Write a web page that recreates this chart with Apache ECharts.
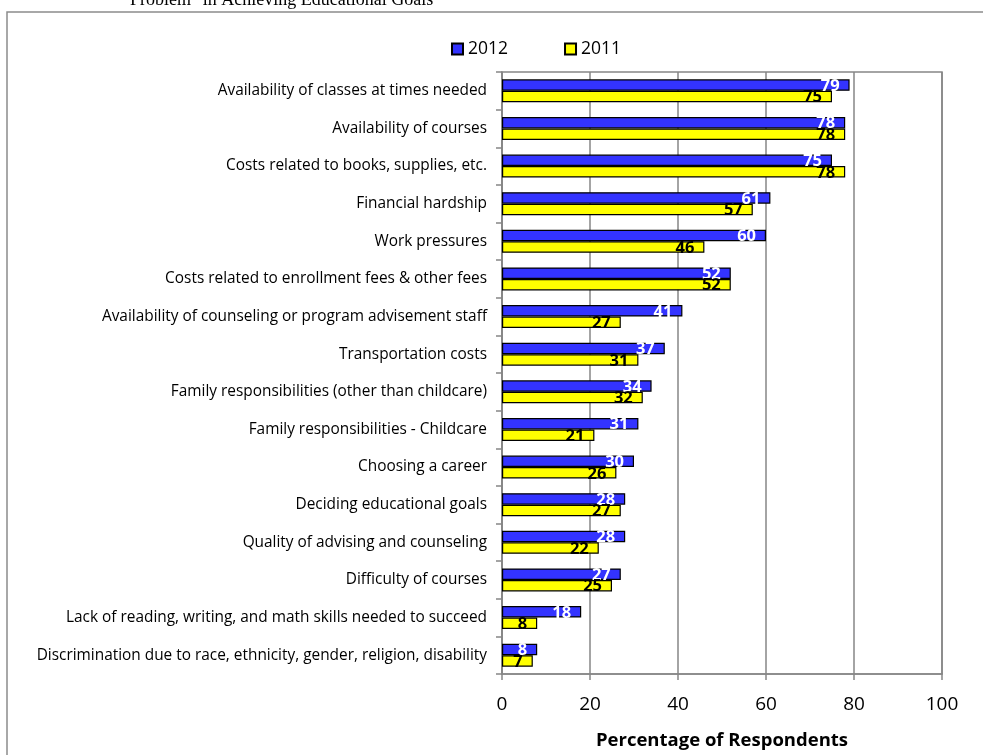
<!DOCTYPE html>
<html>
<head>
<meta charset="utf-8">
<script src="https://cdn.jsdelivr.net/npm/echarts@6/dist/echarts.min.js"></script>
<style>
html,body{margin:0;padding:0;background:#fff;}
#c{width:983px;height:755px;}
</style>
</head>
<body>
<div id="c"></div>
<script>
const categories = [
  "Availability of classes at times needed",
  "Availability of courses",
  "Costs related to books, supplies, etc.",
  "Financial hardship",
  "Work pressures",
  "Costs related to enrollment fees & other fees",
  "Availability of counseling or program advisement staff",
  "Transportation costs",
  "Family responsibilities (other than childcare)",
  "Family responsibilities - Childcare",
  "Choosing a career",
  "Deciding educational goals",
  "Quality of advising and counseling",
  "Difficulty of courses",
  "Lack of reading, writing, and math skills needed to succeed",
  "Discrimination due to race, ethnicity, gender, religion, disability"
];
const values2012 = [79, 78, 75, 61, 60, 52, 41, 37, 34, 31, 30, 28, 28, 27, 18, 8];
const values2011 = [75, 78, 78, 57, 46, 52, 27, 31, 32, 21, 26, 27, 22, 25, 8, 7];
const xTicks = [0, 20, 40, 60, 80, 100];

const FONT = '"Open Sans", Lato, sans-serif';
const GRAY = '#868686';
const chart = echarts.init(document.getElementById('c'), null, {renderer: 'canvas'});
chart.setOption({
  animation: false,
  backgroundColor: '#ffffff',
  graphic: [
    {type: 'rect', shape: {x: 7, y: 12, width: 1100, height: 900},
     style: {fill: 'none', stroke: '#8c8c8c', lineWidth: 1.5}, z: -1},
    {type: 'text', left: 130, top: -9,
     style: {text: 'Problem" in Achieving Educational Goals', font: '18px "Liberation Serif", "Times New Roman", serif', fill: '#000'}}
  ],
  legend: {
    left: 446, top: 35,
    itemWidth: 11, itemHeight: 11, itemGap: 56,
    icon: 'rect',
    textStyle: {fontFamily: FONT, fontSize: 17.5, color: '#000'},
    data: ['2012', '2011']
  },
  grid: {left: 502, right: 41, top: 72, bottom: 76, containLabel: false,
    show: true, borderColor: GRAY, borderWidth: 1.5, backgroundColor: 'transparent'},
  xAxis: {
    type: 'value', min: 0, max: 100, interval: 20,
    name: 'Percentage of Respondents', nameLocation: 'middle', nameGap: 57,
    nameTextStyle: {fontFamily: FONT, fontSize: 18.5, fontWeight: 'bold', color: '#000'},
    axisLine: {show: true, lineStyle: {color: GRAY, width: 1.5}},
    axisTick: {show: true, length: 6, inside: false, lineStyle: {color: GRAY, width: 1.5}},
    axisLabel: {fontFamily: FONT, fontSize: 19, color: '#000', margin: 21,
      formatter: v => xTicks.includes(v) ? String(v) : ''},
    splitLine: {show: true, lineStyle: {color: GRAY, width: 1.5}}
  },
  yAxis: {
    type: 'category', data: categories, inverse: true,
    axisLine: {show: true, lineStyle: {color: GRAY, width: 1.5}},
    axisTick: {show: true, length: 6, lineStyle: {color: GRAY, width: 1.5}},
    axisLabel: {fontFamily: FONT, fontSize: 15.4, color: '#000', margin: 15},
    splitLine: {show: false}
  },
  series: [
    {
      name: '2012', type: 'bar', data: values2012,
      barWidth: 11.5, barGap: '0%',
      itemStyle: {color: '#3333ff', borderColor: '#000', borderWidth: 1.2},
      label: {show: true, position: 'insideRight', distance: 10, offset: [0, 1],
        color: '#fff', fontFamily: FONT, fontSize: 16.5, fontWeight: 'bold'}
    },
    {
      name: '2011', type: 'bar', data: values2011,
      barWidth: 11.5, barGap: '0%',
      itemStyle: {color: '#ffff00', borderColor: '#000', borderWidth: 1.2},
      label: {show: true, position: 'insideRight', distance: 10, offset: [0, 1],
        color: '#000', fontFamily: FONT, fontSize: 16.5, fontWeight: 'bold'}
    }
  ]
});
</script>
</body>
</html>
